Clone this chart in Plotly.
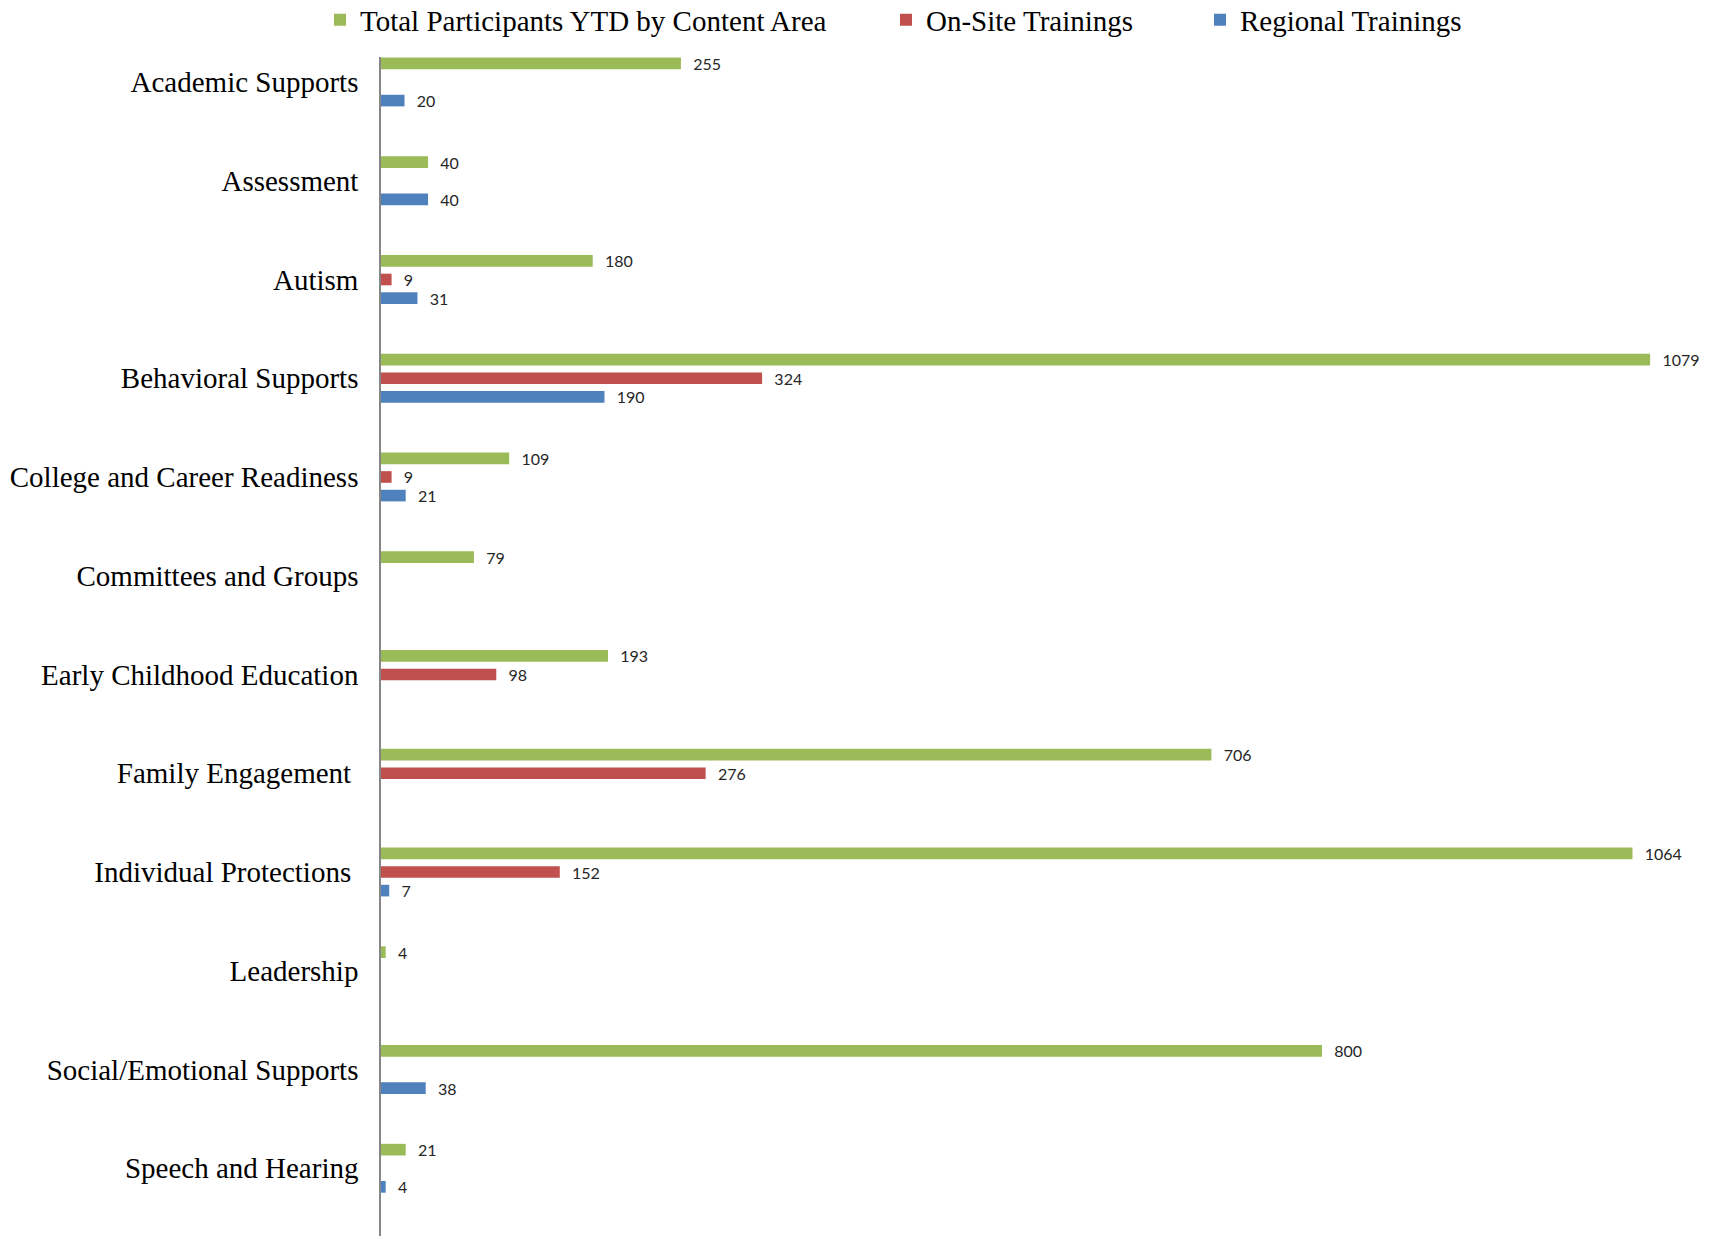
import plotly.graph_objects as go

categories = [
    "Academic Supports", "Assessment", "Autism", "Behavioral Supports",
    "College and Career Readiness", "Committees and Groups",
    "Early Childhood Education", "Family Engagement\u00a0",
    "Individual Protections\u00a0", "Leadership",
    "Social/Emotional Supports", "Speech and Hearing",
]
total_ytd = [255, 40, 180, 1079, 109, 79, 193, 706, 1064, 4, 800, 21]
on_site = [None, None, 9, 324, 9, None, 98, 276, 152, None, None, None]
regional = [20, 40, 31, 190, 21, None, None, None, 7, None, 38, 4]

series_names = ["Total Participants YTD by Content Area", "On-Site Trainings", "Regional Trainings"]
colors = ["#9BBB59", "#C0504D", "#4F81BD"]

W, H = 1712, 1236
AX_X = 381
TOP = 57

def px_x(p):
    return p / W

def px_y(p):
    return 1 - p / H

fig = go.Figure()
legend_x = [320, 886, 1200]
legend_keys = ["legend", "legend2", "legend3"]
for name, vals, col, lk in zip(series_names, [total_ytd, on_site, regional], colors, legend_keys):
    fig.add_trace(go.Bar(
        y=categories, x=vals, orientation="h", name=name,
        marker=dict(color=col, line=dict(width=0)),
        texttemplate="\u2007%{x}", textposition="outside", constraintext="none",
        textfont=dict(family="Lato", size=16, color="#262626"),
        cliponaxis=False, legend=lk, hoverinfo="skip",
    ))

legend_common = dict(
    orientation="h", xanchor="left", yanchor="middle", y=px_y(20),
    font=dict(family="Liberation Serif", size=29, color="#000000"),
    bgcolor="rgba(0,0,0,0)", borderwidth=0, itemwidth=30,
)

fig.update_layout(
    width=W, height=H,
    margin=dict(l=0, r=0, t=0, b=0, autoexpand=False),
    paper_bgcolor="white", plot_bgcolor="white",
    barmode="group", bargap=0.435, bargroupgap=0.374,
    showlegend=True,
    legend=dict(x=px_x(legend_x[0]), **legend_common),
    legend2=dict(x=px_x(legend_x[1]), **legend_common),
    legend3=dict(x=px_x(legend_x[2]), **legend_common),
    xaxis=dict(
        domain=[AX_X / W, 1], range=[0, 1131.6], automargin=False,
        showgrid=False, zeroline=False, showticklabels=False, showline=False,
    ),
    yaxis=dict(
        domain=[0, 1 - TOP / H], type="category", automargin=False,
        range=[11.686, -0.253],
        showgrid=False, zeroline=False, showline=True, linecolor="#868686", linewidth=1.5,
        ticks="", ticklabelstandoff=15,
        tickfont=dict(family="Liberation Serif", size=29, color="#000000"),
    ),
)

fig.write_html(
    "out.html",
    config={"displayModeBar": False},
    post_script="document.body.style.margin='0';document.body.style.overflow='hidden';",
)
